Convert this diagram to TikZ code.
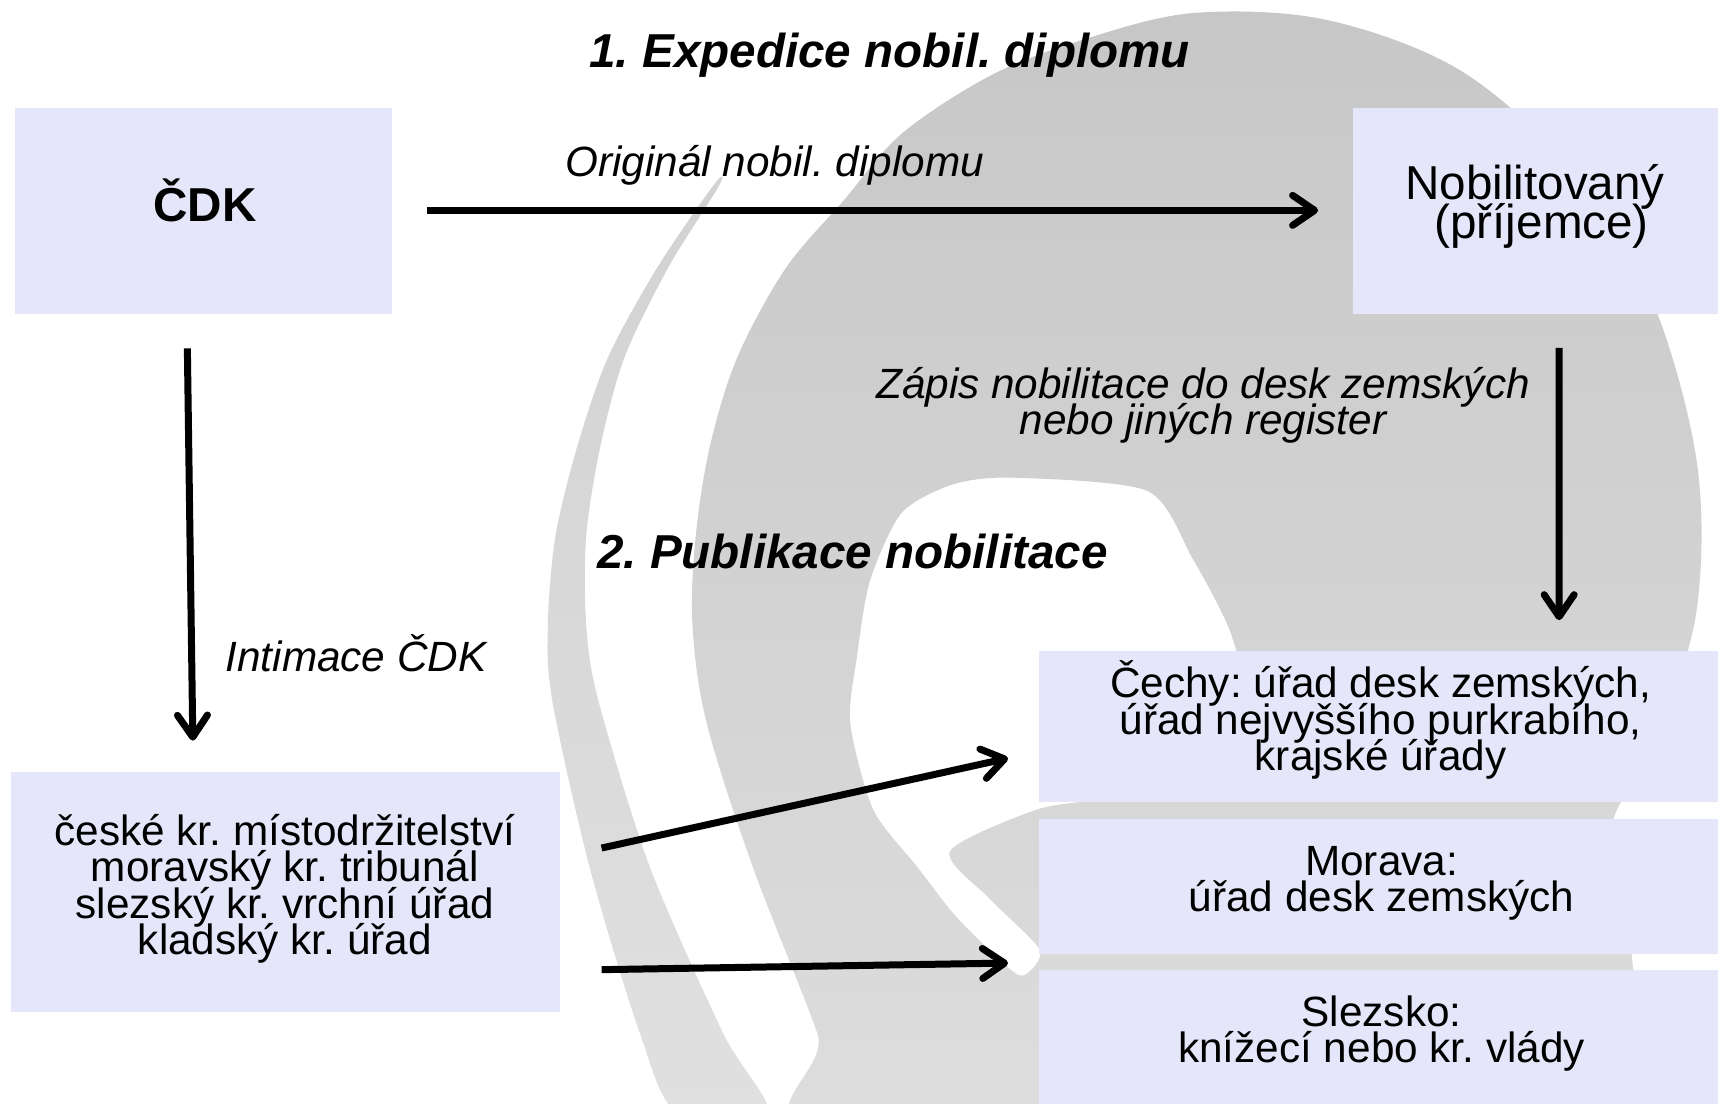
\documentclass[tikz,border=0pt]{standalone}
\usepackage{fontspec}
\setmainfont{Liberation Sans}
\usetikzlibrary{arrows.meta,calc}
\definecolor{boxfill}{RGB}{230,230,250}
\definecolor{swTop}{RGB}{199,199,199}
\definecolor{swBot}{RGB}{222,222,222}
\definecolor{bandTop}{RGB}{210,210,210}
\definecolor{bandBot}{RGB}{224,224,224}
\newcommand\tightlines{\lineskiplimit=-100pt\relax}
\frenchspacing
\begin{document}
\begin{tikzpicture}[x=0.54783pt, y=-0.54783pt,
  box/.style={fill=boxfill, draw=none, inner sep=0pt, outer sep=0pt},
  txt/.style={font=\fontsize{21.15pt}{18.1pt}\selectfont\tightlines, align=center, inner sep=0pt, anchor=base},
  bigtxt/.style={font=\fontsize{23.8pt}{19.5pt}\selectfont\tightlines, align=center, inner sep=0pt, anchor=base},
  arr/.style={line width=3.5pt, -{Straight Barb[length=11pt,width=15pt,round]}}]
\useasboundingbox (0,0) rectangle (1568,1007);
\clip (0,0) rectangle (1568,1007);
\fill[white] (0,0) rectangle (1568,1007);
% background swirl
\shade[top color=swTop, bottom color=swBot, even odd rule]
  plot[smooth cycle, tension=0.55] coordinates {(775,1040) (746,943) (687,791) (645,660) (632,570) (635,489) (648,407) (673,326) (717,245) (770,183) (823,122) (904,69) (986,37) (1088,12) (1210,18) (1334,65) (1440,160) (1509,277) (1549,424) (1548,560) (1510,680) (1470,760) (1490,880) (1490,1040)}
  plot[smooth cycle, tension=0.45] coordinates {(925,436) (1047,448) (1088,509) (1123,577) (1135,640) (1105,700) (1010,728) (946,739) (867,777) (904,821) (949,867) (935,890) (919,882) (873,837) (837,791) (797,739) (776,660) (782,600) (794,530) (823,468) (870,442)};
\shade[top color=bandTop, bottom color=bandBot]
  plot[smooth cycle, tension=0.5] coordinates {(652,168) (600,244) (555,326) (527,407) (507,489) (500,570) (504,639) (538,791) (584,943) (618,1015) (700,1015) (660,943) (593,791) (546,639) (535,570) (535,489) (548,407) (570,326) (610,244) (656,170)};
% boxes
\node[box, minimum width=188.45pt, minimum height=103pt] (cdk) at (186,193) {};
\node[box, minimum width=189pt, minimum height=103pt] (nob) at (1407.5,193) {};
\node[box, minimum width=274.5pt, minimum height=120pt] (left) at (260.5,814.5) {};
\node[box, minimum width=346.2pt, minimum height=75.6pt] (cechy) at (1264,663) {};
\node[box, minimum width=346.2pt, minimum height=67.9pt] (morava) at (1264,809) {};
\node[box, minimum width=346.2pt, minimum height=74pt] (slez) at (1264,952.5) {};
% texts
\node[bigtxt, font=\fontsize{23.8pt}{19.5pt}\selectfont\bfseries\itshape] (title1) at (812,62) {1. Expedice nobil. diplomu};
\node[bigtxt, font=\fontsize{23.8pt}{19.5pt}\selectfont\bfseries\itshape] (title2) at (778,519) {2. Publikace nobilitace};
\node[bigtxt, font=\fontsize{23.8pt}{19.5pt}\selectfont\bfseries] (cdkT) at (187,202.5) {ČDK};
\node[bigtxt] (nobT) at (1401,218) {Nobilitovaný\\\hspace*{0.28em}(příjemce)};
\node[txt, font=\fontsize{21.15pt}{18.1pt}\selectfont\itshape] (origT) at (707,161) {Originál nobil. diplomu};
\node[txt, font=\fontsize{21.15pt}{18.1pt}\selectfont\itshape\tightlines] (zapT) at (1098,397) {Zápis nobilitace do desk zemských\\nebo jiných register};
\node[txt, font=\fontsize{21.15pt}{18.1pt}\selectfont\itshape] (intT) at (325,613) {Intimace ČDK};
\node[txt] (leftT) at (260,871) {české kr. místodržitelství\\moravský kr. tribunál\\slezský kr. vrchní úřad\\kladský kr. úřad};
\node[txt] (cechyT) at (1260,703) {Čechy: úřad desk zemských,\\úřad nejvyššího purkrabího,\\krajské úřady};
\node[txt] (moravaT) at (1261,832) {Morava:\\úřad desk zemských};
\node[txt] (slezT) at (1261,970) {Slezsko:\\knížecí nebo kr. vlády};
% arrows
\draw[arr] ($(cdk.east)+(32,-1)$) -- ($(nob.west)+(-32,-1)$);
\draw[arr] ($(nob.south)+(15.5,30.5)$) -- ($(cechy.north)+(159,-28)$);
\draw[arr] ($(cdk.south)+(-15,31)$) -- ($(left.north)+(-84.5,-29)$);
\draw[arr] ($(left.east)+(38,-40.5)$) -- ($(cechy.west)+(-28,29)$);
\draw[arr] ($(left.east)+(38,70.5)$) -- ($(morava.south west)+(-28,8)$);
\end{tikzpicture}
\end{document}
